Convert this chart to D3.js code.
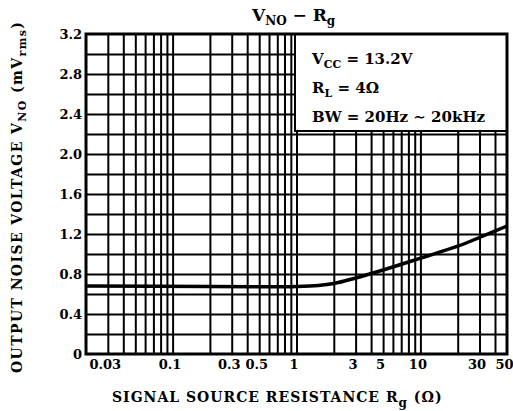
<!DOCTYPE html>
<html>
<head>
<meta charset="utf-8">
<script src="https://cdn.jsdelivr.net/npm/d3@7"></script>
<style>
body { margin: 0; background: #fff; }
text { font-family: "DejaVu Serif", "Liberation Serif", serif; font-weight: bold; fill: #000; }
</style>
</head>
<body>
<div id="chart"></div>
<script>
// curve
var rg = [0.02, 0.2, 0.7, 1, 1.5, 2, 3, 5, 10, 20, 30, 50];
var vno = [0.68, 0.675, 0.673, 0.675, 0.685, 0.705, 0.76, 0.84, 0.958, 1.078, 1.165, 1.28];

var xTickVals = [0.03, 0.1, 0.3, 0.5, 1, 3, 5, 10, 30, 50];
var xTickText = ["0.03", "0.1", "0.3", "0.5", "1", "3", "5", "10", "30", "50"];
var yTickVals = [0, 0.4, 0.8, 1.2, 1.6, 2.0, 2.4, 2.8, 3.2];
var yTickText = ["0", "0.4", "0.8", "1.2", "1.6", "2.0", "2.4", "2.8", "3.2"];

var w = 513, h = 411,
	pLeft = 86, pRight = 507,
	pTop = 34, pBottom = 354;

var svg = d3.select("#chart")
			.append("svg")
			.attr("width", w)
			.attr("height", h)

var x = d3.scaleLog().domain([0.02, 50]).range([pLeft, pRight]);
var y = d3.scaleLinear().domain([0, 3.2]).range([pBottom, pTop]);

// grid, 1-2-..-9 per decade and every 0.2 mV
var xGrid = x.ticks().filter(function(d) { return d > 0.02 && d < 50; });
var yGrid = y.ticks(16).filter(function(d) { return d > 0 && d < 3.2; });

svg.append("g")
	.attr("transform", "translate(0," + pBottom + ")")
	.call(d3.axisBottom(x).tickValues(xGrid).tickSize(-(pBottom - pTop)).tickFormat(""))
	.call(function(g) { g.select(".domain").remove(); })
	.selectAll("line")
	.attr("stroke", "#000")
	.attr("stroke-width", 2)

svg.append("g")
	.attr("transform", "translate(" + pLeft + ",0)")
	.call(d3.axisLeft(y).tickValues(yGrid).tickSize(-(pRight - pLeft)).tickFormat(""))
	.call(function(g) { g.select(".domain").remove(); })
	.selectAll("line")
	.attr("stroke", "#000")
	.attr("stroke-width", 2)

// tick labels (printed a little left of their lines in the original)
var xAxis = svg.append("g")
	.attr("transform", "translate(-3," + pBottom + ")")
	.call(d3.axisBottom(x).tickValues(xTickVals).tickSize(0)
		.tickFormat(function(d, i) { return xTickText[i]; }))
xAxis.select(".domain").remove();
xAxis.selectAll("text")
	.attr("dy", null)
	.attr("y", 15)
	.style("font-size", "13px")

var yAxis = svg.append("g")
	.attr("transform", "translate(" + (pLeft - 4) + ",0)")
	.call(d3.axisLeft(y).tickValues(yTickVals).tickSize(0).tickPadding(0)
		.tickFormat(function(d, i) { return yTickText[i]; }))
yAxis.select(".domain").remove();
yAxis.selectAll("text")
	.style("font-size", "13px")

// condition box
svg.append("rect")
	.attr("x", 295)
	.attr("y", pTop)
	.attr("width", pRight - 295)
	.attr("height", 97)
	.attr("fill", "#fff")
	.attr("stroke", "#000")
	.attr("stroke-width", 2)

var cond = svg.append("g").style("font-size", "15px")
var t1 = cond.append("text").attr("x", 312).attr("y", 64)
t1.append("tspan").text("V")
t1.append("tspan").attr("dy", 4).style("font-size", "11px").text("CC")
t1.append("tspan").attr("dy", -4).text(" = 13.2V")
var t2 = cond.append("text").attr("x", 312).attr("y", 93)
t2.append("tspan").text("R")
t2.append("tspan").attr("dy", 4).style("font-size", "11px").text("L")
t2.append("tspan").attr("dy", -4).text(" = 4Ω")
cond.append("text").attr("x", 312).attr("y", 122)
	.text("BW = 20Hz ∼ 20kHz")

// noise curve
var line = d3.line()
	.x(function(d) { return x(d[0]); })
	.y(function(d) { return y(d[1]); })
	.curve(d3.curveCatmullRom)

svg.append("path")
	.datum(rg.map(function(d, i) { return [d, vno[i]]; }))
	.attr("d", line)
	.attr("fill", "none")
	.attr("stroke", "#000")
	.attr("stroke-width", 3.5)

// frame
svg.append("rect")
	.attr("x", pLeft)
	.attr("y", pTop)
	.attr("width", pRight - pLeft)
	.attr("height", pBottom - pTop)
	.attr("fill", "none")
	.attr("stroke", "#000")
	.attr("stroke-width", 3)

// title
var title = svg.append("text").attr("x", 252).attr("y", 21).style("font-size", "17px")
title.append("tspan").text("V")
title.append("tspan").attr("dy", 4).style("font-size", "12px").text("NO")
title.append("tspan").attr("dy", -4).text("  −  ")
title.append("tspan").text("R")
title.append("tspan").attr("dy", 4).style("font-size", "12px").text("g")

// axis titles
var xl = svg.append("text").attr("x", 112).attr("y", 402).style("font-size", "14px")
	.style("letter-spacing", "1px")
xl.append("tspan").text("SIGNAL SOURCE RESISTANCE  R")
xl.append("tspan").attr("dy", 5).style("font-size", "12px").text("g")
xl.append("tspan").attr("dy", -5).text(" (Ω)")

var yl = svg.append("text").attr("transform", "translate(22,373) rotate(-90)")
	.style("font-size", "14px")
	.style("letter-spacing", "1.4px")
yl.append("tspan").text("OUTPUT NOISE VOLTAGE  V")
yl.append("tspan").attr("dy", 4).style("font-size", "11px").text("NO")
yl.append("tspan").attr("dy", -4).text(" (mV")
yl.append("tspan").attr("dy", 4).style("font-size", "11px").text("rms")
yl.append("tspan").attr("dy", -4).text(")")
</script>
</body>
</html>
